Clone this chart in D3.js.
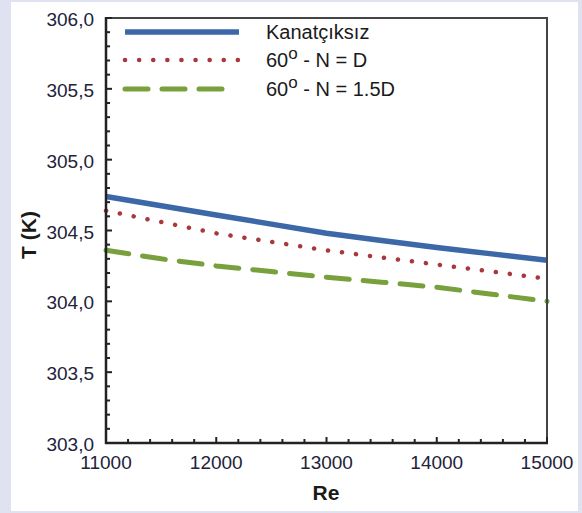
<!DOCTYPE html>
<html>
<head>
<meta charset="utf-8">
<script src="https://cdn.jsdelivr.net/npm/d3@7"></script>
<style>
  body { margin: 0; background: #dfe3f1; }
  svg { display: block; }
</style>
</head>
<body>
<script>
var re = [11000, 11500, 12000, 12500, 13000, 13500, 14000, 14500, 15000];
var tKanatsiz = [304.74, 304.675, 304.61, 304.545, 304.48, 304.43, 304.38, 304.335, 304.29];
var tN_D = [304.64, 304.56, 304.48, 304.42, 304.36, 304.31, 304.26, 304.21, 304.16];
var tN_15D = [304.36, 304.30, 304.25, 304.21, 304.17, 304.135, 304.10, 304.05, 304.00];
var seriesNames = ["Kanatçıksız", "60|o| - N = D", "60|o| - N = 1.5D"];
var xTickLabels = [11000, 12000, 13000, 14000, 15000];
var yTickLabels = ["303,0", "303,5", "304,0", "304,5", "305,0", "305,5", "306,0"];

var W = 582, H = 513;
var pLeft = 106, pRight = 547, pTop = 18, pBottom = 443;
var font = "Liberation Sans, Arial, sans-serif";

var svg = d3.select("body").append("svg")
  .attr("width", W)
  .attr("height", H);

// white panel
svg.append("rect")
  .attr("x", 11).attr("y", 2)
  .attr("width", 567).attr("height", 509)
  .attr("fill", "#ffffff");

var x = d3.scaleLinear().domain([11000, 15000]).range([pLeft, pRight]);
var y = d3.scaleLinear().domain([303, 306]).range([pBottom, pTop]);

var series = [
  {name: seriesNames[0], vals: tKanatsiz, color: "#3c68a8", width: 5.5, dash: null, cap: "butt", legEnd: 239},
  {name: seriesNames[1], vals: tN_D, color: "#a8383a", width: 4.5, dash: "0.1,14", cap: "round", legEnd: 239},
  {name: seriesNames[2], vals: tN_15D, color: "#78a03c", width: 5, dash: "23,14", cap: "round", legEnd: 226}
];

var line = d3.line()
  .x(function(d, i) { return x(re[i]); })
  .y(function(d) { return y(d); });

svg.append("g").attr("id", "lines")
  .selectAll("path")
  .data(series)
  .enter()
  .append("path")
  .attr("fill", "none")
  .attr("stroke", function(d) { return d.color; })
  .attr("stroke-width", function(d) { return d.width; })
  .attr("stroke-dasharray", function(d) { return d.dash; })
  .attr("stroke-linecap", function(d) { return d.cap; })
  .attr("d", function(d) { return line(d.vals); });

// frame (top and right)
svg.append("path")
  .attr("d", "M" + pLeft + "," + pTop + "H" + pRight + "V" + pBottom)
  .attr("fill", "none")
  .attr("stroke", "#444")
  .attr("stroke-width", 2);

// x axis with inward ticks
var xMinor = d3.range(11000, 15001, 200);
var gx = svg.append("g").attr("id", "x_axis");
gx.selectAll("line.tick")
  .data(xMinor)
  .enter()
  .append("line")
  .attr("x1", function(d) { return x(d); })
  .attr("x2", function(d) { return x(d); })
  .attr("y1", pBottom)
  .attr("y2", function(d) { return pBottom - (d % 1000 === 0 ? 6 : 4); })
  .attr("stroke", "#222")
  .attr("stroke-width", 2);
gx.append("line")
  .attr("x1", pLeft - 1).attr("x2", pRight + 1)
  .attr("y1", pBottom).attr("y2", pBottom)
  .attr("stroke", "#222").attr("stroke-width", 2.5);
gx.selectAll("text")
  .data(xTickLabels)
  .enter()
  .append("text")
  .attr("x", function(d) { return x(d); })
  .attr("y", pBottom + 26)
  .attr("text-anchor", "middle")
  .attr("font-family", font)
  .attr("font-size", 19)
  .attr("fill", "#22223a")
  .text(function(d) { return d; });

// y axis with inward ticks
var yMinor = d3.range(0, 31).map(function(i) { return 303 + i * 0.1; });
var gy = svg.append("g").attr("id", "y_axis");
gy.selectAll("line.tick")
  .data(yMinor)
  .enter()
  .append("line")
  .attr("x1", pLeft)
  .attr("x2", function(d, i) { return pLeft + (i % 5 === 0 ? 6 : 4); })
  .attr("y1", function(d) { return y(d); })
  .attr("y2", function(d) { return y(d); })
  .attr("stroke", "#222")
  .attr("stroke-width", 2);
gy.append("line")
  .attr("x1", pLeft).attr("x2", pLeft)
  .attr("y1", pTop - 1).attr("y2", pBottom + 1)
  .attr("stroke", "#222").attr("stroke-width", 2.5);
gy.selectAll("text")
  .data(yTickLabels)
  .enter()
  .append("text")
  .attr("x", pLeft - 12)
  .attr("y", function(d, i) { return y(303 + i * 0.5) + 8; })
  .attr("text-anchor", "end")
  .attr("font-family", font)
  .attr("font-size", 19)
  .attr("fill", "#22223a")
  .text(function(d) { return d; });

// axis titles
svg.append("text")
  .attr("x", 326)
  .attr("y", 500)
  .attr("text-anchor", "middle")
  .attr("font-family", font)
  .attr("font-size", 21)
  .attr("font-weight", "bold")
  .attr("fill", "#1a1a1a")
  .text("Re");

svg.append("text")
  .attr("transform", "translate(36,235) rotate(-90)")
  .attr("text-anchor", "middle")
  .attr("font-family", font)
  .attr("font-size", 21)
  .attr("font-weight", "bold")
  .attr("fill", "#1a1a1a")
  .text("T (K)");

// legend
var legendY = [32, 60, 89];
var lg = svg.append("g").attr("id", "legend");
lg.selectAll("line")
  .data(series)
  .enter()
  .append("line")
  .attr("x1", 125)
  .attr("x2", function(d) { return d.legEnd; })
  .attr("y1", function(d, i) { return legendY[i]; })
  .attr("y2", function(d, i) { return legendY[i]; })
  .attr("stroke", function(d) { return d.color; })
  .attr("stroke-width", function(d) { return d.width; })
  .attr("stroke-dasharray", function(d) { return d.dash; })
  .attr("stroke-linecap", function(d) { return d.cap; });

var lt = lg.selectAll("text")
  .data(series)
  .enter()
  .append("text")
  .attr("x", 266)
  .attr("y", function(d, i) { return legendY[i] + 7; })
  .attr("font-family", font)
  .attr("font-size", 20)
  .attr("fill", "#1a1a1a");

lt.each(function(d) {
  var parts = d.name.split("|");
  var t = d3.select(this);
  t.append("tspan").text(parts[0]);
  if (parts.length > 1) {
    t.append("tspan").attr("dy", -8).attr("font-size", 17).text(parts[1]);
    t.append("tspan").attr("dy", 8).text(parts[2]);
  }
});
</script>
</body>
</html>
